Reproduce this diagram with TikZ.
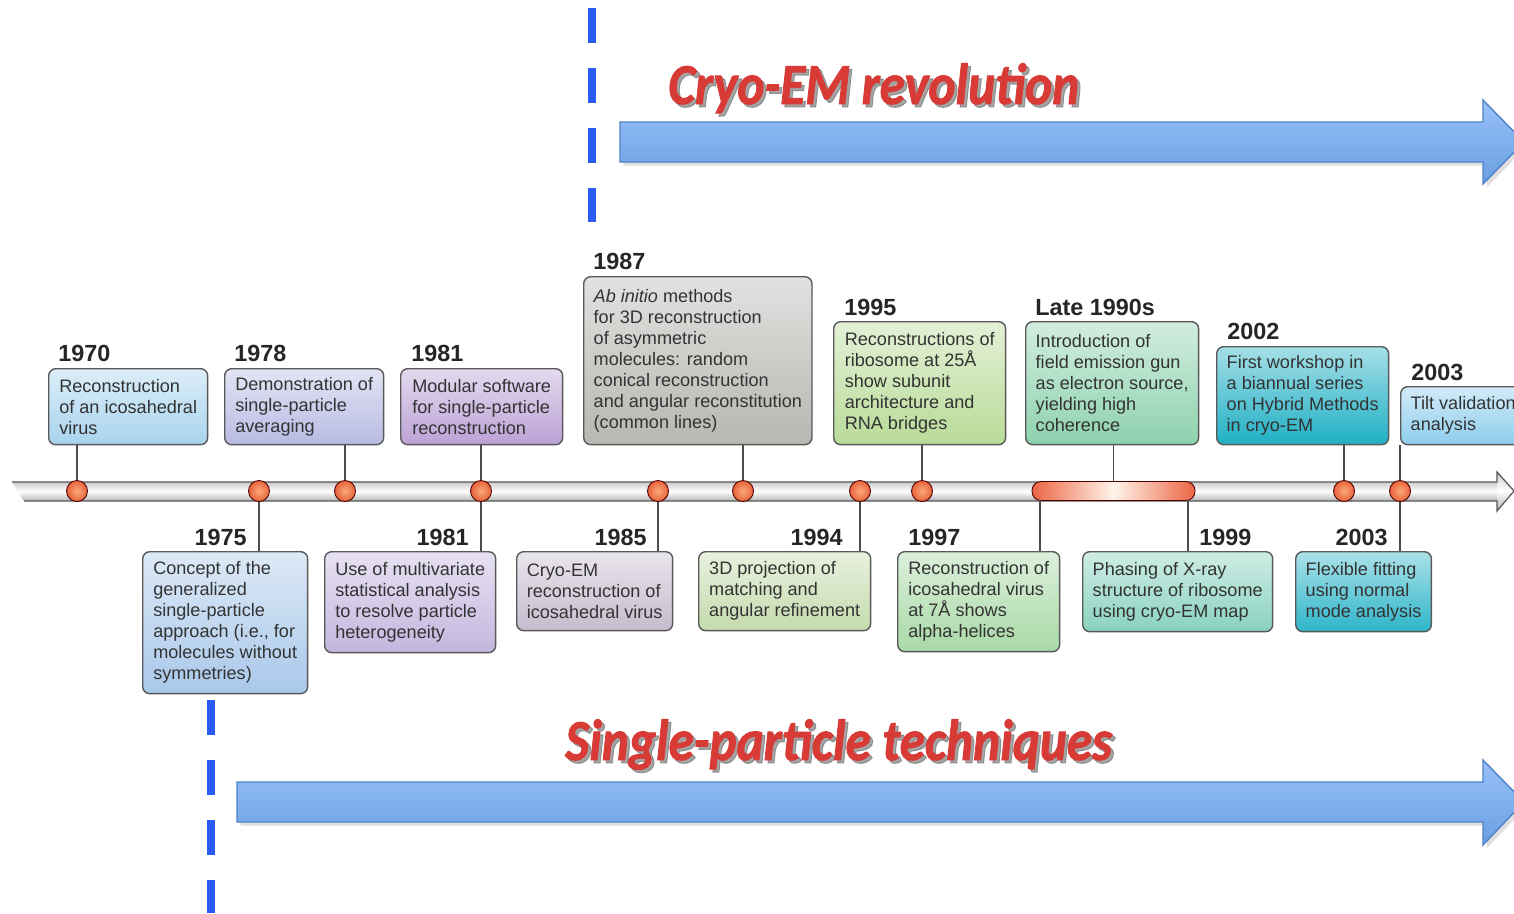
\documentclass[tikz,border=0pt]{standalone}
\usepackage{fontspec}
\setmainfont{Liberation Sans}
\newfontfamily\wordart[FakeBold=1.5]{Carlito}
\usetikzlibrary{shadows}

\definecolor{cA}{HTML}{A8D4EE}
\definecolor{cB}{HTML}{B8BBE3}
\definecolor{cC}{HTML}{BCA2D6}
\definecolor{cD}{HTML}{B5B7B1}
\definecolor{cE}{HTML}{B9DB98}
\definecolor{cF}{HTML}{8ED2AE}
\definecolor{cG}{HTML}{1FAFC4}
\definecolor{cH}{HTML}{8ECDED}
\definecolor{cI}{HTML}{A9C8EA}
\definecolor{cJ}{HTML}{C3B6DE}
\definecolor{cK}{HTML}{C6BCCE}
\definecolor{cL}{HTML}{C5DBAD}
\definecolor{cM}{HTML}{A8D9A6}
\definecolor{cN}{HTML}{88D2BE}
\definecolor{cO}{HTML}{2DB5C9}
\definecolor{titlered}{HTML}{D83B36}
\definecolor{dashblue}{HTML}{2A5CF5}
\definecolor{eratop}{HTML}{97C1F7}
\definecolor{erabot}{HTML}{6A9FE3}
\definecolor{eraline}{HTML}{4F82C8}
\definecolor{dotin}{HTML}{FBAA7C}
\definecolor{dotout}{HTML}{E8623A}
\definecolor{bandedge}{HTML}{EC6543}

\newcommand\evtfont{\fontsize{10.3}{11.95}\selectfont}
\newcommand\yrfont{\fontsize{13.3}{15}\selectfont\bfseries}

\begin{document}
\begin{tikzpicture}[x=0.02cm, y=-0.02cm,
  evt/.style={draw=black!65, line width=0.8pt, rounded corners=4pt, anchor=north west,
    align=left, inner xsep=0.2cm, font=\evtfont, text=black!80,
    top color=#1!40!white, bottom color=#1},
  yr/.style={font=\yrfont, text=black!85, inner sep=0pt},
  dot/.style={circle, draw=black!70!red, line width=0.5pt, inner color=dotin, outer color=dotout,
    minimum size=0.42cm, inner sep=0pt},
  link/.style={draw=black!70, line width=0.7pt},
  era/.style={draw=eraline, line width=0.8pt, top color=eratop, bottom color=erabot,
    drop shadow={opacity=0.25, shadow xshift=2pt, shadow yshift=-2pt}},
  cut/.style={draw=dashblue, line width=0.16cm, dash pattern=on 0.7cm off 0.5cm},
  title/.style={font={\fontsize{33}{36}\wordart\bfseries\itshape}, inner sep=0pt},
  ]
  \useasboundingbox (0,0) rectangle (1514,913);
  \fill[white] (0,0) rectangle (1514,913);

  % eras
  \draw [cut] (592,8) -- (592,222);
  \draw [cut] (211,700) -- (211,913);
  \draw [era] (620,122) -- (1483,122) -- (1483,100) -- (1524,142) -- (1483,184)
    -- (1483,162) -- (620,162) -- cycle;
  \draw [era] (237,782) -- (1483,782) -- (1483,760) -- (1524,802) -- (1483,845)
    -- (1483,822) -- (237,822) -- cycle;
  \node [title, anchor=base west, text=black!60, opacity=0.6] (revs) at (671,107)
    {\scalebox{0.885}[1]{Cryo-EM revolution}};
  \node [title, anchor=base west, text=titlered] (rev) at (668,104)
    {\scalebox{0.885}[1]{Cryo-EM revolution}};
  \node [title, anchor=base west, text=black!60, opacity=0.6] (spts) at (568,763)
    {\scalebox{0.885}[1]{Single-particle techniques}};
  \node [title, anchor=base west, text=titlered] (spt) at (565,760)
    {\scalebox{0.885}[1]{Single-particle techniques}};

  % timeline
  \begin{scope}
    \clip (12,482) -- (1497,482) -- (1497,472) -- (1514,491) -- (1497,511)
      -- (1497,501) -- (24,501) -- cycle;
    \shade [top color=black!22, bottom color=black!32, middle color=white] (0,470) rectangle (1514,512);
    \shade [top color=black!20, bottom color=black!30, middle color=white] (0,482) rectangle (1497,501);
  \end{scope}
  \draw [draw=black!65, line width=0.7pt] (12,482) -- (1497,482) -- (1497,472) -- (1514,491)
    -- (1497,511) -- (1497,501) -- (24,501);
  \node [draw=black!70!red, line width=0.5pt, rounded corners=0.18cm, minimum width=3.26cm,
    minimum height=0.38cm, left color=bandedge, right color=bandedge,
    middle color=white!92!orange] (late) at (1113.5,491) {};
  \coordinate (l1997) at (1040,500);
  \coordinate (l1999) at (1188,500);

  \node [dot] (d1970) at (77,491) {};
  \node [dot] (d1975) at (259,491) {};
  \node [dot] (d1978) at (345,491) {};
  \node [dot] (d1981) at (481,491) {};
  \node [dot] (d1985) at (658,491) {};
  \node [dot] (d1987) at (743,491) {};
  \node [dot] (d1994) at (860,491) {};
  \node [dot] (d1995) at (922,491) {};
  \node [dot] (d2002) at (1344,491) {};
  \node [dot] (d2003) at (1400,491) {};

  % events above
  \node [evt=cA, minimum width=3.18cm, minimum height=1.52cm] (t1970) at (48,368)
    {Reconstruction\\of an icosahedral\\virus};
  \node [evt=cB, minimum width=3.18cm, minimum height=1.52cm] (t1978) at (224,368)
    {Demonstration of\\single-particle\\averaging};
  \node [evt=cC, minimum width=3.24cm, minimum height=1.52cm] (t1981) at (400,368)
    {Modular software\\for single-particle\\reconstruction};
  \node [evt=cD, minimum width=4.54cm, minimum height=3.36cm] (t1987) at (583,276)
    {\textit{Ab initio} methods\\for 3D reconstruction\\of asymmetric\\molecules: random\\conical reconstruction\\and angular reconstitution\\(common lines)};
  \node [evt=cE, minimum width=3.44cm, minimum height=2.46cm] (t1995) at (833,321)
    {Reconstructions of\\ribosome at 25Å\\show subunit\\architecture and\\RNA bridges};
  \node [evt=cF, minimum width=3.44cm, minimum height=2.46cm] (tlate) at (1025,321)
    {Introduction of\\field emission gun\\as electron source,\\yielding high\\coherence};
  \node [evt=cG, minimum width=3.40cm, minimum height=1.96cm] (t2002) at (1216,346)
    {First workshop in\\a biannual series\\on Hybrid Methods\\in cryo-EM};
  \node [evt=cH, minimum height=1.16cm] (t2003) at (1400,386)
    {Tilt validation\\analysis};

  % events below
  \node [evt=cI, minimum width=3.30cm, minimum height=2.84cm] (b1975) at (142,551)
    {Concept of the\\generalized\\single-particle\\approach (i.e., for\\molecules without\\symmetries)};
  \node [evt=cJ, minimum width=3.42cm, minimum height=2.02cm] (b1981) at (324,551)
    {Use of multivariate\\statistical analysis\\to resolve particle\\heterogeneity};
  \node [evt=cK, minimum width=3.12cm, minimum height=1.58cm] (b1985) at (516,551)
    {Cryo-EM\\reconstruction of\\icosahedral virus};
  \node [evt=cL, minimum width=3.44cm, minimum height=1.58cm] (b1994) at (698,551)
    {3D projection of\\matching and\\angular refinement};
  \node [evt=cM, minimum width=3.24cm, minimum height=2.00cm] (b1997) at (897,551)
    {Reconstruction of\\icosahedral virus\\at 7Å shows\\alpha-helices};
  \node [evt=cN, minimum width=3.78cm, minimum height=1.60cm] (b1999) at (1082,551)
    {Phasing of X-ray\\structure of ribosome\\using cryo-EM map};
  \node [evt=cO, minimum width=2.70cm, minimum height=1.60cm] (b2003) at (1295,551)
    {Flexible fitting\\using normal\\mode analysis};

  % years
  \node [yr, anchor=base west] (y1970) at (58,361) {1970};
  \node [yr, anchor=base west] (y1978) at (234,361) {1978};
  \node [yr, anchor=base west] (y1981t) at (411,361) {1981};
  \node [yr, anchor=base west] (y1987) at (593,269) {1987};
  \node [yr, anchor=base west] (y1995) at (844,315) {1995};
  \node [yr, anchor=base west] (ylate) at (1035,315) {Late 1990s};
  \node [yr, anchor=base west] (y2002) at (1227,339) {2002};
  \node [yr, anchor=base west] (y2003t) at (1411,380) {2003};
  \node [yr, anchor=base east] (y1975) at (247,545) {1975};
  \node [yr, anchor=base east] (y1981b) at (469,545) {1981};
  \node [yr, anchor=base east] (y1985) at (647,545) {1985};
  \node [yr, anchor=base east] (y1994) at (843,545) {1994};
  \node [yr, anchor=base west] (y1997) at (908,545) {1997};
  \node [yr, anchor=base west] (y1999) at (1199,545) {1999};
  \node [yr, anchor=base east] (y2003b) at (1388,545) {2003};

  % links
  \draw [link] (d1970.north) -- (d1970 |- t1970.south);
  \draw [link] (d1978.north) -- (d1978 |- t1978.south);
  \draw [link] (d1981.north) -- (d1981 |- t1981.south);
  \draw [link] (d1987.north) -- (d1987 |- t1987.south);
  \draw [link] (d1995.north) -- (d1995 |- t1995.south);
  \draw [link] (late.north) -- (late |- tlate.south);
  \draw [link] (d2002.north) -- (d2002 |- t2002.south);
  \draw [link] (d2003.north) -- (d2003 |- t2003.south);
  \draw [link] (d1975.south) -- (d1975 |- b1975.north);
  \draw [link] (d1981.south) -- (d1981 |- b1981.north);
  \draw [link] (d1985.south) -- (d1985 |- b1985.north);
  \draw [link] (d1994.south) -- (d1994 |- b1994.north);
  \draw [link] (l1997) -- (l1997 |- b1997.north);
  \draw [link] (l1999) -- (l1999 |- b1999.north);
  \draw [link] (d2003.south) -- (d2003 |- b2003.north);
\end{tikzpicture}
\end{document}
